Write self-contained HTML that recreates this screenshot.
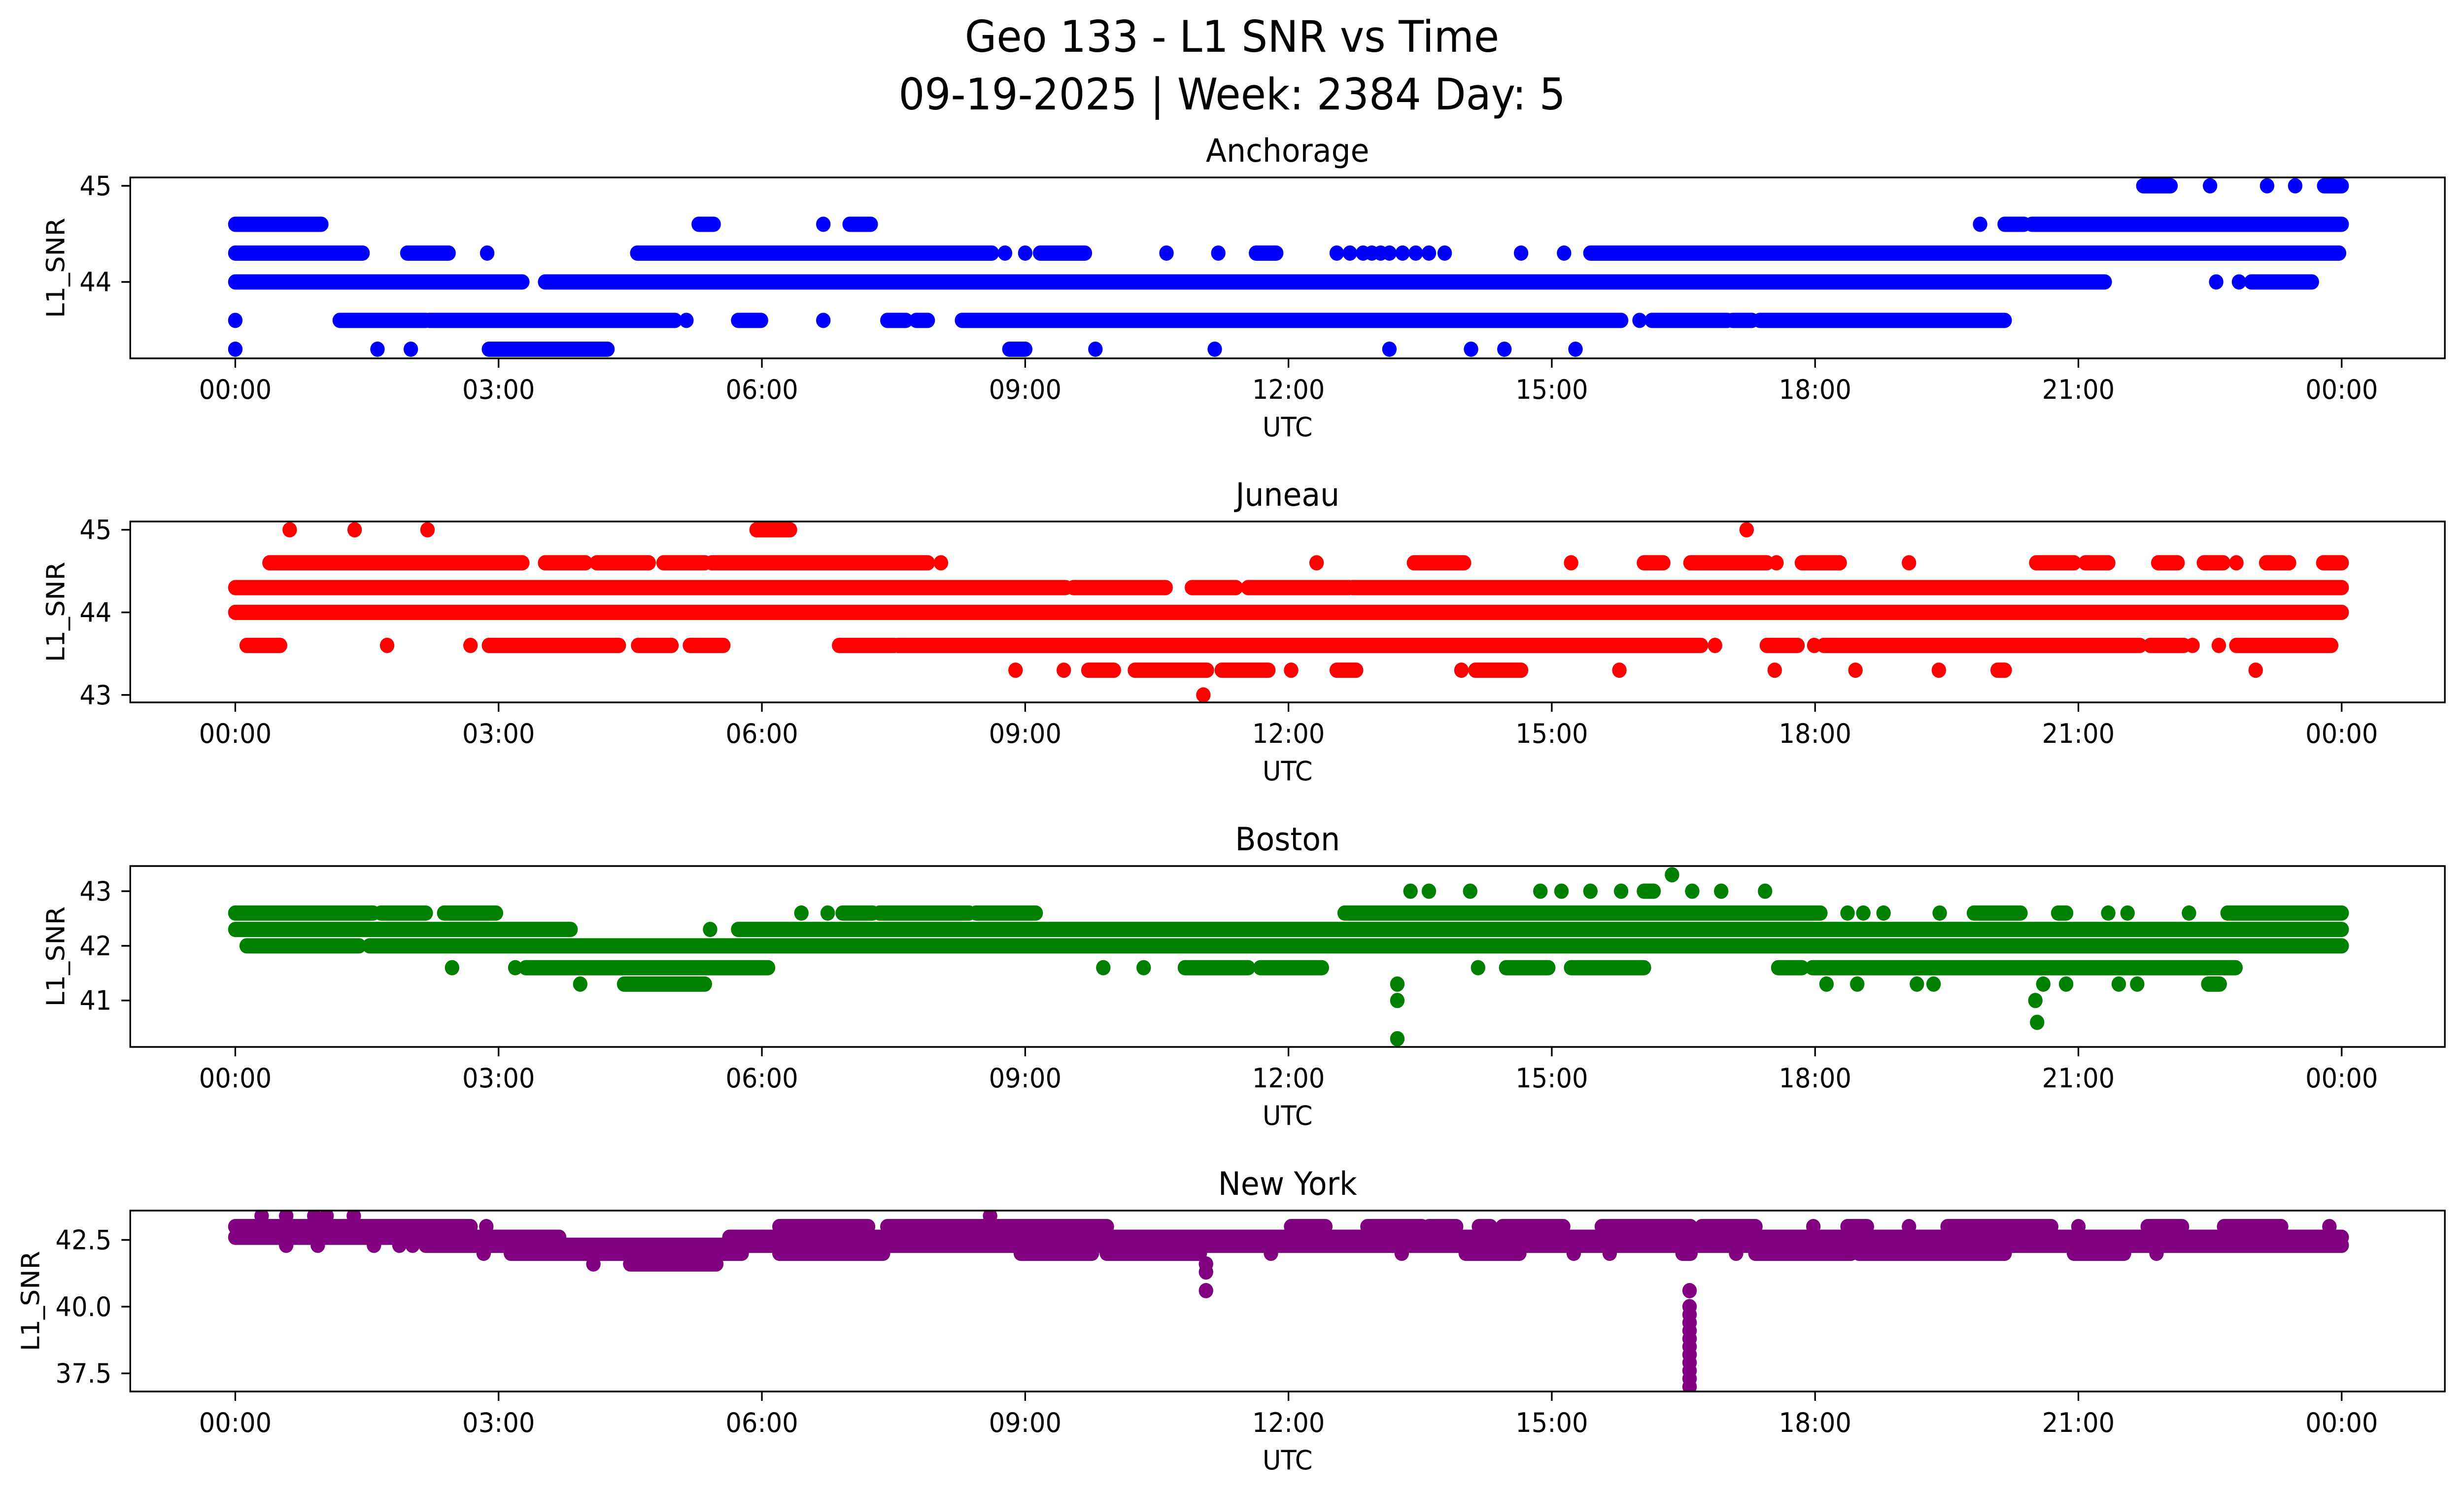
<!DOCTYPE html>
<html><head><meta charset="utf-8"><style>
html,body{margin:0;padding:0;background:#fff;overflow:hidden;width:100%;height:100%;}
svg{display:block;width:100vw;height:100vh;font-family:"DejaVu Sans","Liberation Sans",sans-serif;}
</style></head><body>
<svg id="fig" viewBox="0 0 5278 3033" preserveAspectRatio="none" xmlns="http://www.w3.org/2000/svg">
<rect width="5278" height="3033" fill="#fff"/>
<text x="2639" y="105" font-size="88" text-anchor="middle">Geo 133 - L1 SNR vs Time</text>
<text x="2639" y="222" font-size="88" text-anchor="middle">09-19-2025 | Week: 2384 Day: 5</text>
</svg>
<script>
// ---- shared axis data ----
const xTickHours = [0,3,6,9,12,15,18,21,24];
const xTickLabels = ["00:00","03:00","06:00","09:00","12:00","15:00","18:00","21:00","00:00"];

// ---- Anchorage ----
const anchorageRunStart = [21.74,23.8, 0,5.28,7.0,20.16,20.47, 0,1.96,4.58,9.17,11.63,15.44, 0,3.53,22.97, 1.19,2.21,5.73,7.43,7.76,8.28,16.14,17.06,17.37, 2.89,8.82];
const anchorageRunEnd   = [22.05,24.0, 0.98,5.45,7.24,20.38,24, 1.45,2.43,8.62,9.68,11.86,23.97, 3.27,21.3,23.66, 2.17,5.01,5.99,7.64,7.89,15.79,17.0,17.28,20.16, 4.24,9.0];
const anchorageRunValue = [45,45, 44.6,44.6,44.6,44.6,44.6, 44.3,44.3,44.3,44.3,44.3,44.3, 44,44,44, 43.6,43.6,43.6,43.6,43.6,43.6,43.6,43.6,43.6, 43.3,43.3];
const anchoragePtTime  = [22.5,23.15,23.47, 6.7,19.88, 2.87,8.77,9.0,10.61,11.2,12.55,12.7,12.85,12.95,13.05,13.15,13.3,13.45,13.6,13.78,14.65,15.14, 22.57,22.83, 0,5.14,6.7,16.0, 0,1.62,2.0,9.8,11.16,13.15,14.08,14.46,15.27];
const anchoragePtValue = [45,45,45, 44.6,44.6, 44.3,44.3,44.3,44.3,44.3,44.3,44.3,44.3,44.3,44.3,44.3,44.3,44.3,44.3,44.3,44.3,44.3, 44,44, 43.6,43.6,43.6,43.6, 43.3,43.3,43.3,43.3,43.3,43.3,43.3,43.3,43.3];

// ---- Juneau ----
const juneauRunStart = [5.94, 0.39,3.53,4.12,4.88,5.43,13.43,16.05,16.58,17.85,20.52,21.08,21.91,22.43,23.14,23.79, 0,9.55,10.9,11.54,12.73, 0, 0.13,2.89,4.59,5.18,6.88,7.55,17.45,18.1,21.82,22.8, 9.72,10.25,11.24,12.55,14.13,20.08];
const juneauRunEnd   = [6.32, 3.27,3.99,4.71,5.35,7.89,14.0,16.27,17.45,18.28,20.95,21.34,22.13,22.65,23.4,24, 9.46,10.6,11.4,12.69,24, 24, 0.51,4.37,4.97,5.56,7.51,16.7,17.8,21.7,22.2,23.88, 10.01,11.07,11.77,12.77,14.65,20.16];
const juneauRunValue = [45, 44.6,44.6,44.6,44.6,44.6,44.6,44.6,44.6,44.6,44.6,44.6,44.6,44.6,44.6,44.6, 44.3,44.3,44.3,44.3,44.3, 44, 43.6,43.6,43.6,43.6,43.6,43.6,43.6,43.6,43.6,43.6, 43.3,43.3,43.3,43.3,43.3,43.3];
const juneauPtTime  = [0.62,1.36,2.19,17.22, 8.04,12.32,15.22,17.56,19.07,22.8, 1.73,2.68,16.86,17.99,22.3,22.6, 8.89,9.44,12.03,13.97,15.77,17.54,18.46,19.41,23.02, 11.03];
const juneauPtValue = [45,45,45,45, 44.6,44.6,44.6,44.6,44.6,44.6, 43.6,43.6,43.6,43.6,43.6,43.6, 43.3,43.3,43.3,43.3,43.3,43.3,43.3,43.3,43.3, 43];

// ---- Boston ----
const bostonRunStart = [16.05, 0,1.66,2.38,6.92,7.34,8.44,12.64,19.81,20.77,22.7, 0,5.73, 0.13,1.53, 3.31,10.82,11.68,14.48,15.22,17.58,17.97, 4.43,22.48];
const bostonRunEnd   = [16.16, 1.57,2.17,2.97,7.26,8.36,9.12,18.06,20.34,20.86,24, 3.82,24, 1.41,24, 6.07,11.54,12.38,14.96,16.05,17.85,22.79, 5.35,22.61];
const bostonRunValue = [43, 42.6,42.6,42.6,42.6,42.6,42.6,42.6,42.6,42.6,42.6, 42.3,42.3, 42,42, 41.6,41.6,41.6,41.6,41.6,41.6,41.6, 41.3,41.3];
const bostonPtTime  = [16.37, 13.39,13.6,14.07,14.87,15.11,15.44,15.79,16.6,16.93,17.43, 6.45,6.75,18.37,18.55,18.78,19.42,21.34,21.56,22.26, 5.41, 2.47,3.19,9.89,10.35,14.16, 3.93,13.24,18.13,18.48,19.16,19.35,20.6,20.86,21.46,21.67, 13.24,20.51, 20.53, 13.24];
const bostonPtValue = [43.3, 43,43,43,43,43,43,43,43,43,43, 42.6,42.6,42.6,42.6,42.6,42.6,42.6,42.6,42.6, 42.3, 41.6,41.6,41.6,41.6,41.6, 41.3,41.3,41.3,41.3,41.3,41.3,41.3,41.3,41.3,41.3, 41,41, 40.6, 40.3];

// ---- New York ----
const nyRunStart = [0,6.2,7.43,12.03,12.9,13.6,14.17,14.44,15.57,16.71,18.37,19.51,21.79,22.66, 0,5.63, 2.17, 3.14,6.2,8.95,9.93,14.02,16.49,17.32,18.5,20.95, 4.5];
const nyRunEnd   = [2.68,7.21,9.93,12.42,13.52,13.91,14.3,15.13,16.58,17.32,18.59,20.69,22.18,23.31, 3.69,24, 24, 5.77,7.38,9.76,10.99,14.63,16.58,18.41,20.16,21.52, 5.48];
const nyRunValue = [43,43,43,43,43,43,43,43,43,43,43,43,43,43, 42.6,42.6, 42.3, 42,42,42,42,42,42,42,42,42, 41.6];
const nyPtTime  = [0.3,0.58,0.9,1.04,1.35,8.6, 2.86,17.98,19.07,21.0,23.86, 0.58,0.94,1.58,1.87,2.02, 2.83,11.8,13.29,15.25,15.66,17.1,21.89, 4.08, 11.06,11.06,11.06, 16.57,16.57,16.57,16.57,16.57,16.57,16.57,16.57,16.57,16.57,16.57,16.57];
const nyPtValue = [43.4,43.4,43.4,43.4,43.4,43.4, 43,43,43,43,43, 42.3,42.3,42.3,42.3,42.3, 42,42,42,42,42,42,42, 41.6, 41.6,41.3,40.6, 40.6,40.0,39.7,39.4,39.1,38.8,38.5,38.2,37.9,37.6,37.3,37.0];

// ---- panel configuration (layout) ----
const panels = [
  {key:"anchorage", title:"Anchorage", color:"#0000ff", top:360, bottom:727, yMin:43.205, yMax:45.087, ticks:[44,45], labels:["44","45"], ylabX:120,
   rs:anchorageRunStart, re:anchorageRunEnd, rv:anchorageRunValue, pt:anchoragePtTime, pv:anchoragePtValue},
  {key:"juneau", title:"Juneau", color:"#ff0000", top:1058, bottom:1425, yMin:42.91, yMax:45.1, ticks:[43,44,45], labels:["43","44","45"], ylabX:120,
   rs:juneauRunStart, re:juneauRunEnd, rv:juneauRunValue, pt:juneauPtTime, pv:juneauPtValue},
  {key:"boston", title:"Boston", color:"#008000", top:1757, bottom:2124, yMin:40.15, yMax:43.46, ticks:[41,42,43], labels:["41","42","43"], ylabX:120,
   rs:bostonRunStart, re:bostonRunEnd, rv:bostonRunValue, pt:bostonPtTime, pv:bostonPtValue},
  {key:"new-york", title:"New York", color:"#800080", top:2456, bottom:2823, yMin:36.82, yMax:43.6, ticks:[37.5,40,42.5], labels:["37.5","40.0","42.5"], ylabX:66,
   rs:nyRunStart, re:nyRunEnd, rv:nyRunValue, pt:nyPtTime, pv:nyPtValue}
];

const NS = "http://www.w3.org/2000/svg";
const svg = document.getElementById("fig");
const AX_L = 279, AX_R = 5237, X0 = 504, PX_PER_H = 188, R = 15.5;
function xScale(h){ return X0 + h * PX_PER_H; }
function mk(tag, attrs, parent){
  const e = document.createElementNS(NS, tag);
  for (const k in attrs) e.setAttribute(k, attrs[k]);
  (parent || svg).appendChild(e);
  return e;
}

panels.forEach(p => {
  const yScale = v => p.bottom - (v - p.yMin) / (p.yMax - p.yMin) * (p.bottom - p.top);
  const g = mk("g", {});
  
  

  const clipId = "clip-" + p.key;
  const cp = mk("clipPath", {id: clipId}, g);
  mk("rect", {x: AX_L, y: p.top, width: AX_R - AX_L, height: p.bottom - p.top}, cp);

  const marks = mk("g", {"clip-path": "url(#" + clipId + ")", fill: p.color}, g);
  
  
  for (let i = 0; i < p.rs.length; i++) {
    const x1 = xScale(p.rs[i]), x2 = xScale(p.re[i]), y = yScale(p.rv[i]);
    const r = mk("rect", {x: x1 - R, y: y - R, width: (x2 - x1) + 2 * R, height: 2 * R, rx: R, ry: R}, marks);
    
    
  }
  for (let i = 0; i < p.pt.length; i++) {
    const c = mk("circle", {cx: xScale(p.pt[i]), cy: yScale(p.pv[i]), r: R}, marks);
    
    
  }

  const frame = mk("rect", {x: AX_L, y: p.top, width: AX_R - AX_L, height: p.bottom - p.top, fill: "none", stroke: "#000", "stroke-width": 3.5}, g);
  
  

  const title = mk("text", {x: (AX_L + AX_R) / 2, y: p.top - 32, "font-size": 65, "text-anchor": "middle"}, g);
  title.textContent = p.title;
  
  

  xTickHours.forEach((h, i) => {
    const x = xScale(h);
    mk("line", {x1: x, x2: x, y1: p.bottom, y2: p.bottom + 19, stroke: "#000", "stroke-width": 3.5}, g);
    const t = mk("text", {x: x, y: p.bottom + 82, "font-size": 54, "text-anchor": "middle"}, g);
    t.textContent = xTickLabels[i];
    
    
  });
  const xl = mk("text", {x: (AX_L + AX_R) / 2, y: p.bottom + 158, "font-size": 54, "text-anchor": "middle"}, g);
  xl.textContent = "UTC";
  
  

  p.ticks.forEach((v, i) => {
    const y = yScale(v);
    mk("line", {x1: AX_L - 19, x2: AX_L, y1: y, y2: y, stroke: "#000", "stroke-width": 3.5}, g);
    const t = mk("text", {x: AX_L - 40, y: y + 19, "font-size": 54, "text-anchor": "end"}, g);
    t.textContent = p.labels[i];
    
    
  });
  const cy = (p.top + p.bottom) / 2;
  const yl = mk("text", {x: p.ylabX, y: cy, "font-size": 54, "text-anchor": "middle", transform: "rotate(-90 " + p.ylabX + " " + cy + ")", "dominant-baseline": "central"}, g);
  yl.textContent = "L1_SNR";
  
  
});
</script>
</body></html>
